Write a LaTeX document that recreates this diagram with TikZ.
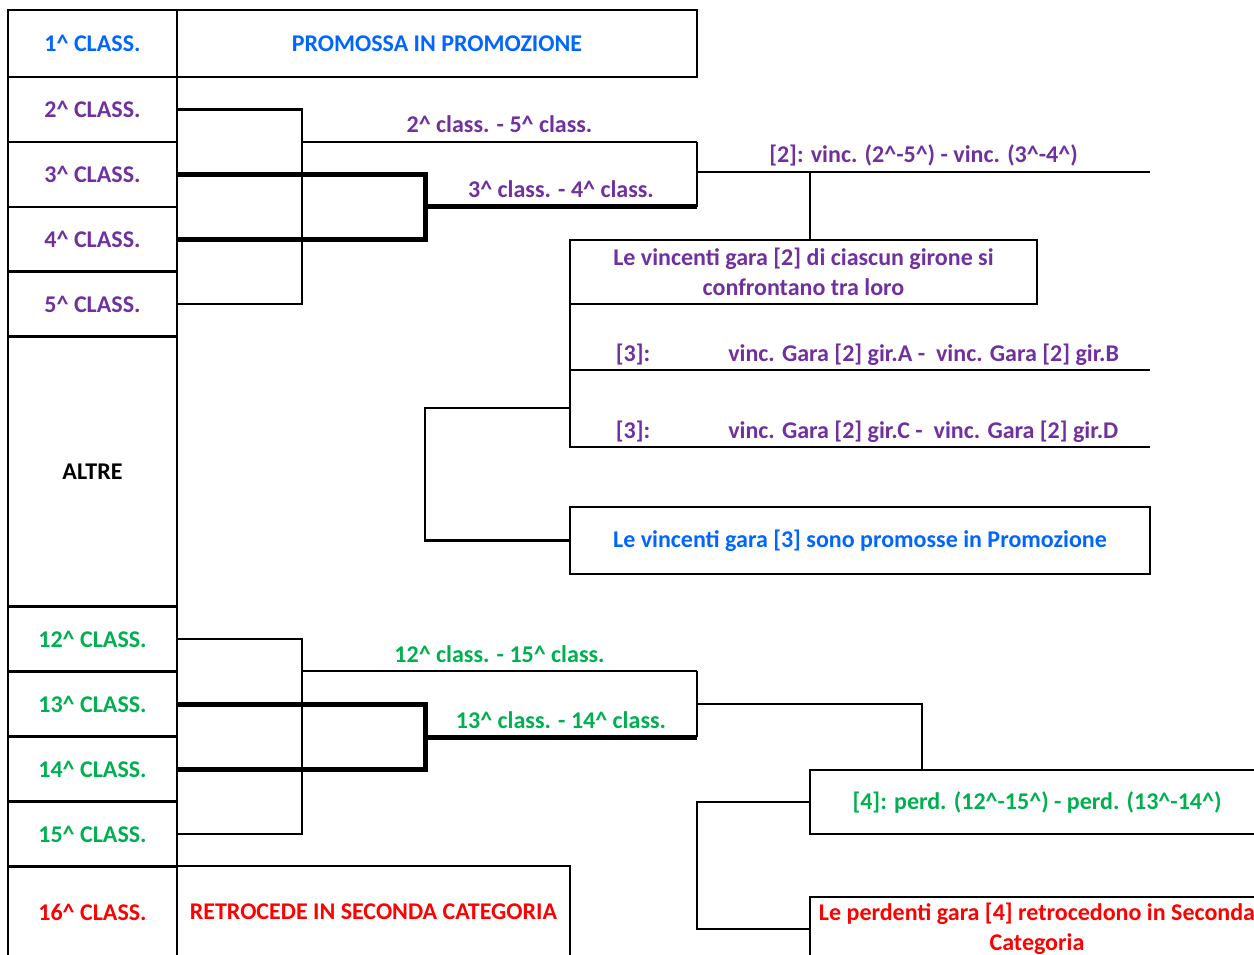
\documentclass[tikz,border=0pt]{standalone}
\usepackage{fontspec}
\setmainfont{Carlito}
\usepackage{tikz}
\definecolor{promo}{HTML}{0066FF}
\definecolor{viola}{HTML}{7030A0}
\definecolor{verde}{HTML}{00B050}
\definecolor{rosso}{HTML}{FF0000}
\newcommand{\ap}{\textasciicircum}

\begin{document}
\begin{tikzpicture}[x=1pt, y=-1pt, line width=2.5pt,
    cell/.style={draw, inner sep=0pt, outer sep=0pt, align=center, font=\bfseries\fontsize{24}{30}\selectfont},
    lbl/.style={anchor=base, yshift=9pt, inner sep=0pt, font=\bfseries\fontsize{24}{30}\selectfont},
    fat/.style={line width=5pt}]
        \useasboundingbox (0,0) rectangle (1254,955);
        \clip (0,0) rectangle (1254,955);
        % colonna delle classifiche
        \node[cell, text=promo, minimum width=169pt, minimum height=67pt] (c1) at (92.5,43.5) {1\ap{} CLASS.};
        \node[cell, text=promo, minimum width=520pt, minimum height=67pt] (p1) at (437,43.5) {PROMOSSA IN PROMOZIONE};
        \foreach \n/\y in {2/109.5,3/174.5,4/239.5,5/304}
            \node[cell, text=viola, minimum width=169pt, minimum height=65pt] (c\n) at (92.5,\y) {\n\ap{} CLASS.};
        \node[cell, minimum width=169pt, minimum height=271pt] (altre) at (92.5,471.5) {ALTRE};
        \foreach \n/\y in {12/639,13/704,14/769.5,15/834}
            \node[cell, text=verde, minimum width=169pt, minimum height=65pt] (c\n) at (92.5,\y) {\n\ap{} CLASS.};
        \node[cell, text=rosso, minimum width=169pt, minimum height=92pt] (c16) at (92.5,912) {16\ap{} CLASS.};
        \node[cell, text=rosso, minimum width=393pt, minimum height=92pt] (r16) at (373.5,912) {RETROCEDE IN SECONDA CATEGORIA};
        % play-off
        \coordinate (j25) at (302,142);
        \coordinate (k25) at (697,142);
        \coordinate (j34) at (425,207);
        \coordinate (k34) at (697,207);
        \draw (c2.east) -| (j25) |- (c5.east);
        \draw (j25) -- node[lbl, text=viola] {2\ap{} class. - 5\ap{} class.} (k25);
        \draw[fat] (c3.east) -| (j34) |- (c4.east);
        \draw[fat] (j34) -- node[lbl, text=viola] {3\ap{} class. - 4\ap{} class.} (k34);
        \draw (k25) -- (k34);
        \coordinate (j2) at (697,172);
        \coordinate (k2) at (1150,172);
        \draw (j2) -- node[lbl, text=viola] {[2]: vinc. (2\ap-5\ap) - vinc. (3\ap-4\ap)} (k2);
        \node[cell, text=viola, minimum width=467pt, minimum height=64pt] (g2) at (803.5,272) {Le vincenti gara [2] di ciascun girone si\\confrontano tra loro};
        \coordinate (t2) at (810,172);
        \draw (t2) -- (t2 |- g2.north);
        \coordinate (g3a) at (570,370);
        \coordinate (e3a) at (1150,370);
        \coordinate (g3b) at (570,447);
        \coordinate (e3b) at (1150,447);
        \draw (g2.south west) -- (g3b) -- (e3b);
        \draw (g3a) -- (e3a);
        \node[lbl, text=viola] (n3a) at (633,370) {[3]:};
        \node[lbl, text=viola, anchor=base west] (m3a) at (727,370) {vinc. Gara [2] gir.A -\ \ vinc. Gara [2] gir.B};
        \node[lbl, text=viola] (n3b) at (633,447) {[3]:};
        \node[lbl, text=viola, anchor=base west] (m3b) at (727,447) {vinc. Gara [2] gir.C -\ \ vinc. Gara [2] gir.D};
        \node[cell, text=promo, minimum width=580pt, minimum height=67pt] (p3) at (860,540.5) {Le vincenti gara [3] sono promosse in Promozione};
        \coordinate (j3) at (570,408);
        \coordinate (k3) at (425,470);
        \draw (j3) -| (k3) |- (p3.west);
        % play-out
        \coordinate (j1215) at (302,671);
        \coordinate (k1215) at (697,671);
        \coordinate (j1314) at (425,737);
        \coordinate (k1314) at (697,737);
        \draw (c12.east) -| (j1215) |- (c15.east);
        \draw (j1215) -- node[lbl, text=verde] {12\ap{} class. - 15\ap{} class.} (k1215);
        \draw[fat] (c13.east) -| (j1314) |- (c14.east);
        \draw[fat] (j1314) -- node[lbl, text=verde] {13\ap{} class. - 14\ap{} class.} (k1314);
        \draw (k1215) -- (k1314);
        \node[cell, text=verde, minimum width=454pt, minimum height=64pt] (q4) at (1037,802) {[4]: perd. (12\ap-15\ap) - perd. (13\ap-14\ap)};
        \coordinate (j4) at (697,704);
        \coordinate (k4) at (922,704);
        \draw (j4) -- (k4) -- (k4 |- q4.north);
        \node[cell, text=rosso, minimum width=454pt, minimum height=64pt] (d4) at (1037,929) {Le perdenti gara [4] retrocedono in Seconda\\Categoria};
        \coordinate (k5) at (697,860);
        \draw (q4.west) -| (k5) |- (d4.west);
\end{tikzpicture}
\end{document}
